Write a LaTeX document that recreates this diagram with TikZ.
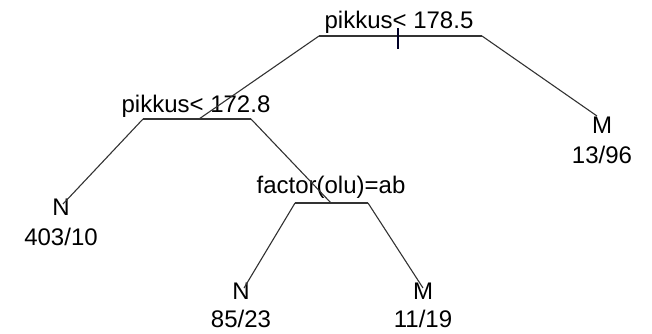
\documentclass[tikz,border=0pt]{standalone}
\usepackage{fontspec}
\setmainfont{Liberation Sans}
\begin{document}
\begin{tikzpicture}[x=1pt,y=-1pt,
  lbl/.style={anchor=base,inner sep=0pt,font=\fontsize{24}{28}\selectfont,text=black},
  br/.style={draw=black!80,line width=1.1pt}]
\useasboundingbox (0,0) rectangle (652,333);
% split labels
\node[lbl] (t0) at (399,28) {pikkus< 178.5};
\node[lbl] (t1) at (196,112) {pikkus< 172.8};
\node[lbl] (t2) at (331,193) {factor(olu)=ab};
% bar ends and split points
\coordinate (r0L) at (319,36);
\coordinate (r0R) at (482,36);
\coordinate (r1L) at (143,119);
\coordinate (r1M) at (199,119);
\coordinate (r1R) at (251,119);
\coordinate (r2L) at (295,203);
\coordinate (r2M) at (331,203);
\coordinate (r2R) at (368,203);
% leaves
\node[lbl] (l1) at (61,215) {N};
\node[lbl] (l1n) at (61,245) {403/10};
\node[lbl] (l2) at (602,133) {M};
\node[lbl] (l2n) at (602,163) {13/96};
\node[lbl] (l3) at (241,299) {N};
\node[lbl] (l3n) at (241,327) {85/23};
\node[lbl] (l4) at (423,299) {M};
\node[lbl] (l4n) at (423,327) {11/19};
\coordinate (e1) at (63,204);
\coordinate (e2) at (597,116);
\coordinate (e3) at (244,288);
\coordinate (e4) at (423,288);
% branches
\draw[br] (r0L) -- (r0R);
\draw[br] (r1L) -- (r1R);
\draw[br] (r2L) -- (r2R);
\draw[br] (r0L) -- (r1M);
\draw[br] (r0R) -- (e2);
\draw[br] (r1L) -- (e1);
\draw[br] (r1R) -- (r2M);
\draw[br] (r2L) -- (e3);
\draw[br] (r2R) -- (e4);
% tick at root split
\coordinate (k0) at (398,28);
\coordinate (k1) at (398,49);
\draw[br,draw=black!85!blue] (k0) -- (k1);
\end{tikzpicture}
\end{document}
